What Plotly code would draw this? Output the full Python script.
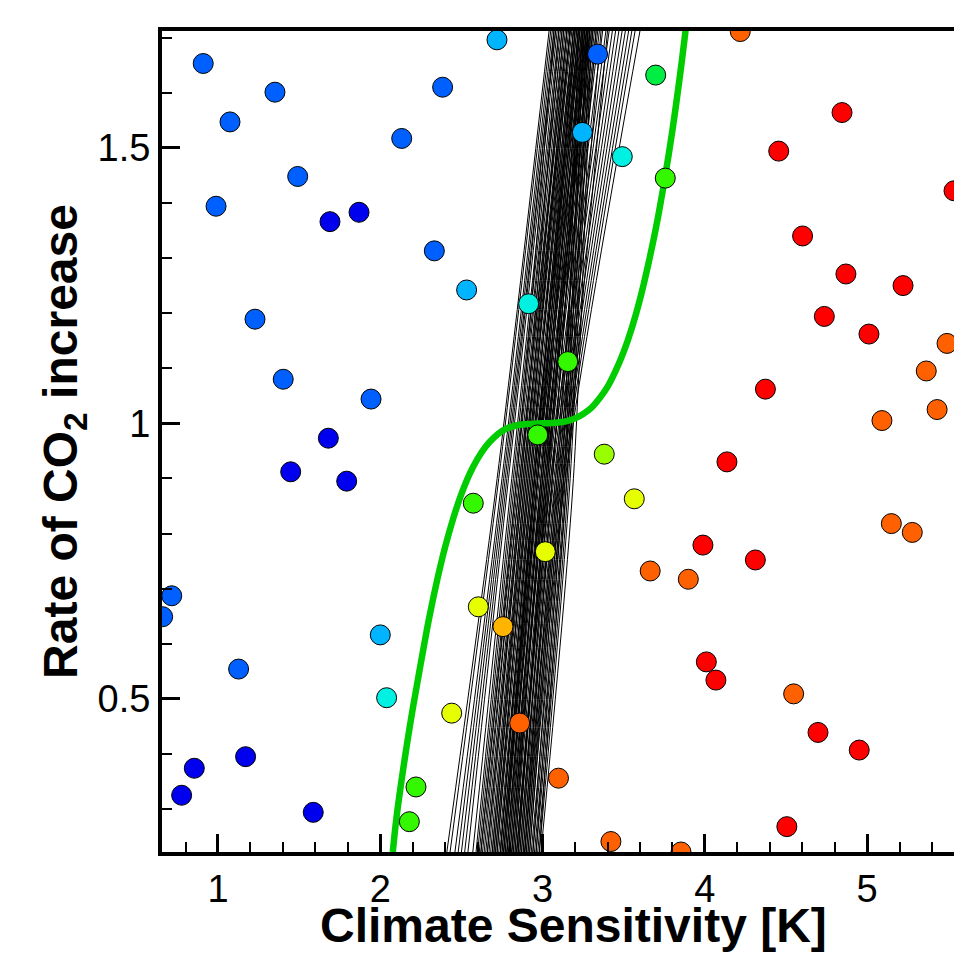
import plotly.graph_objects as go

# ---- scatter points (climate sensitivity, rate of CO2 increase, colour class) ----
pt_x = [0.909, 1.351, 1.074, 2.384, 2.132, 1.491, 0.988, 1.690, 1.869, 2.333,
        2.532, 1.228, 1.402, 1.943, 1.680, 1.448, 1.793, 0.715, 0.659, 2.000,
        1.127, 2.039, 2.440, 2.604, 2.573, 1.170, 0.854, 0.776, 1.587, 2.220,
        2.179, 2.719, 3.339, 3.697, 4.218, 3.245, 3.491, 3.756, 4.845, 4.455,
        5.535, 4.602, 4.869, 5.221, 4.736, 5.011, 5.492, 5.364, 5.431, 5.091,
        4.373, 4.136, 2.914, 3.155, 2.970, 3.380, 3.565, 3.017, 2.756, 2.859,
        3.098, 3.421, 3.853, 3.988, 4.311, 3.663, 3.898, 5.149, 5.278, 4.009,
        4.068, 4.547, 4.697, 4.951, 4.505]
pt_y = [1.653, 1.601, 1.547, 1.610, 1.517, 1.448, 1.394, 1.366, 1.383, 1.313,
        1.242, 1.189, 1.080, 1.044, 0.973, 0.912, 0.895, 0.687, 0.649, 0.616,
        0.554, 0.502, 0.474, 0.667, 0.855, 0.395, 0.374, 0.325, 0.294, 0.340,
        0.277, 1.696, 1.670, 1.632, 1.711, 1.528, 1.484, 1.445, 1.564, 1.494,
        1.422, 1.340, 1.271, 1.250, 1.194, 1.162, 1.145, 1.095, 1.025, 1.005,
        1.062, 0.930, 1.217, 1.112, 0.979, 0.944, 0.863, 0.767, 0.631, 0.456,
        0.356, 0.241, 0.222, 0.779, 0.752, 0.732, 0.717, 0.818, 0.802, 0.567,
        0.534, 0.509, 0.439, 0.407, 0.268]
pt_cls = ["B", "B", "B", "B", "B", "B", "B", "DB", "DB", "B",
          "LB", "B", "B", "B", "DB", "DB", "DB", "B", "B", "LB",
          "B", "C", "Y", "Y", "L", "DB", "DB", "DB", "DB", "L",
          "L", "LB", "B", "G", "O", "LB", "C", "L", "R", "R",
          "R", "R", "R", "R", "R", "R", "O", "O", "O", "O",
          "R", "R", "C", "L", "L", "YG", "Y", "Y", "OY", "O",
          "O", "O", "O", "R", "R", "O", "O", "O", "O", "R",
          "R", "O", "R", "R", "R"]
palette = {"DB": "#0000EE", "B": "#0060FF", "LB": "#00B4FF", "C": "#00F0E2",
           "G": "#00EE44", "L": "#33F800", "YG": "#99FF00", "Y": "#E6FF00",
           "OY": "#FFB400", "O": "#FF6000", "R": "#FF0000"}

# ---- ensemble of thin black curves: x read at three rate levels ----
line_levels = [0.222, 0.9, 1.712]
line_lo = [2.41, 2.43, 2.46, 2.48, 2.50, 2.52, 2.54, 2.57, 2.59, 2.60,
           2.61, 2.62, 2.63, 2.64, 2.66, 2.67, 2.68, 2.69, 2.70, 2.71,
           2.72, 2.73, 2.74, 2.74, 2.75, 2.76, 2.77, 2.78, 2.78, 2.79,
           2.80, 2.81, 2.81, 2.82, 2.83, 2.84, 2.84, 2.85, 2.86, 2.86,
           2.87, 2.88, 2.89, 2.89, 2.90, 2.91, 2.92, 2.93, 2.94, 2.95,
           2.96, 2.97, 2.98, 2.99, 2.75, 2.78, 2.80, 2.82, 2.85, 2.70,
           2.65, 2.88, 2.91, 2.76,
           2.62, 2.66, 2.69, 2.72, 2.74, 2.77, 2.79, 2.81, 2.83, 2.85,
           2.87, 2.89, 2.90, 2.92, 2.94, 2.96, 2.98, 2.71, 2.76, 2.84]
line_mid = [2.72, 2.73, 2.75, 2.76, 2.77, 2.78, 2.79, 2.81, 2.82, 2.83,
            2.84, 2.85, 2.86, 2.86, 2.88, 2.88, 2.89, 2.90, 2.91, 2.92,
            2.93, 2.94, 2.94, 2.95, 2.96, 2.97, 2.97, 2.98, 2.99, 3.00,
            3.00, 3.01, 3.02, 3.02, 3.03, 3.04, 3.05, 3.05, 3.06, 3.07,
            3.08, 3.09, 3.10, 3.11, 3.12, 3.13, 3.14, 3.12, 3.13, 3.14,
            3.15, 3.16, 3.17, 3.19, 2.95, 2.97, 2.99, 3.01, 3.03, 2.90,
            2.87, 3.06, 3.09, 2.96,
            2.84, 2.87, 2.89, 2.91, 2.93, 2.95, 2.97, 2.99, 3.00, 3.02,
            3.04, 3.06, 3.08, 3.10, 3.11, 3.13, 3.15, 2.92, 2.95, 3.03]
line_hi = [3.04, 3.05, 3.06, 3.07, 3.08, 3.08, 3.09, 3.10, 3.11, 3.12,
           3.12, 3.13, 3.14, 3.15, 3.16, 3.17, 3.17, 3.18, 3.19, 3.20,
           3.21, 3.22, 3.23, 3.24, 3.25, 3.26, 3.27, 3.28, 3.29, 3.30,
           3.31, 3.32, 3.33, 3.34, 3.35, 3.37, 3.39, 3.41, 3.43, 3.45,
           3.47, 3.49, 3.51, 3.53, 3.55, 3.57, 3.60, 3.22, 3.24, 3.25,
           3.27, 3.28, 3.29, 3.30, 3.20, 3.23, 3.25, 3.27, 3.28, 3.17,
           3.15, 3.26, 3.28, 3.22,
           3.07, 3.10, 3.13, 3.15, 3.17, 3.19, 3.20, 3.22, 3.23, 3.24,
           3.26, 3.27, 3.29, 3.31, 3.33, 3.36, 3.40, 3.19, 3.21, 3.25]

# ---- thick green curve (read along its length) ----
green_x = [2.077, 2.10, 2.15, 2.20, 2.25, 2.30, 2.35, 2.40, 2.45, 2.50,
           2.55, 2.60, 2.65, 2.70, 2.75, 2.80, 2.85, 2.92, 3.00, 3.08,
           3.15, 3.20, 3.25, 3.30, 3.35, 3.40, 3.45, 3.50, 3.55, 3.60,
           3.65, 3.70, 3.75, 3.80, 3.85, 3.89]
green_y = [0.222, 0.285, 0.390, 0.482, 0.565, 0.645, 0.715, 0.776, 0.828, 0.872,
           0.908, 0.936, 0.958, 0.974, 0.986, 0.993, 0.997, 0.999, 1.000, 1.001,
           1.004, 1.009, 1.017, 1.028, 1.045, 1.066, 1.095, 1.130, 1.173, 1.225,
           1.287, 1.357, 1.439, 1.532, 1.639, 1.735]

lx, ly = [], []
for a, b, c in zip(line_lo, line_mid, line_hi):
    lx += [a, b, c, None]
    ly += line_levels + [None]

fig = go.Figure()
fig.add_trace(go.Scatter(x=lx, y=ly, mode="lines",
                         line=dict(color="black", width=1, shape="spline", smoothing=0.8),
                         hoverinfo="skip", showlegend=False))
fig.add_trace(go.Scatter(x=green_x, y=green_y, mode="lines",
                         line=dict(color="#00CC00", width=6.5, shape="spline", smoothing=1),
                         showlegend=False))
fig.add_trace(go.Scatter(x=pt_x, y=pt_y, mode="markers",
                         marker=dict(size=20, color=[palette[c] for c in pt_cls],
                                     line=dict(color="black", width=1)),
                         showlegend=False))

FAM = "Liberation Sans, Arial, sans-serif"
fig.update_layout(
    width=954, height=961,
    margin=dict(l=162, r=0, t=31, b=109),
    paper_bgcolor="white", plot_bgcolor="white",
    font=dict(family=FAM, size=38, color="black"),
    xaxis=dict(range=[0.655, 5.535], dtick=1, tick0=0,
               showgrid=False, zeroline=False,
               showline=True, linewidth=4, linecolor="black", mirror=True,
               ticks="inside", ticklen=18, tickwidth=3, tickcolor="black",
               minor=dict(dtick=0.2, ticks="inside", ticklen=10, tickwidth=1.5,
                          tickcolor="black", showgrid=False),
               tickfont=dict(family=FAM, size=38, color="black"), automargin=False),
    yaxis=dict(range=[0.222, 1.712], dtick=0.5, tick0=0,
               showgrid=False, zeroline=False,
               showline=True, linewidth=4, linecolor="black", mirror=False,
               ticks="inside", ticklen=18, tickwidth=3, tickcolor="black",
               minor=dict(dtick=0.1, ticks="inside", ticklen=10, tickwidth=1.5,
                          tickcolor="black", showgrid=False),
               tickfont=dict(family=FAM, size=38, color="black"), automargin=False,
               title=dict(text="Rate of CO<sub>2</sub> increase",
                          font=dict(family=FAM, size=48, color="black", weight="bold"),
                          standoff=6)),
    annotations=[dict(text="Climate Sensitivity [K]", xref="paper", yref="paper",
                      x=0.519, y=-0.089, xanchor="center", yanchor="middle",
                      showarrow=False,
                      font=dict(family=FAM, size=48, color="black", weight="bold"))],
)

fig.write_html("out.html", config={"displayModeBar": False},
               post_script="document.body.style.margin='0';")
